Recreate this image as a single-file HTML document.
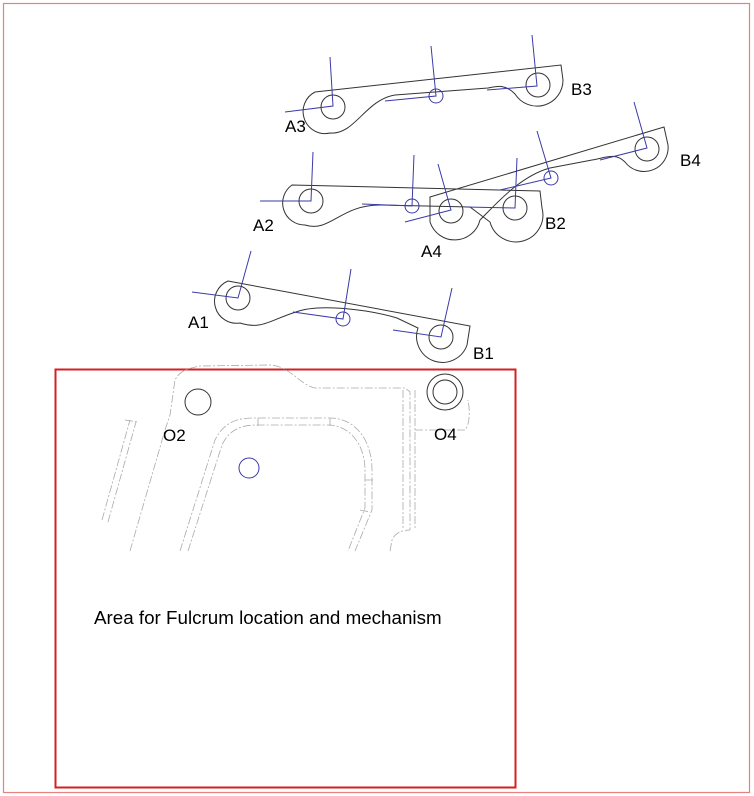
<!DOCTYPE html>
<html><head><style>
html,body{margin:0;padding:0;background:#fff;}
svg{display:block;}
text{font-family:"Liberation Sans",sans-serif;font-size:17px;fill:#000;}
</style></head><body>
<svg width="754" height="796" viewBox="0 0 754 796" xmlns="http://www.w3.org/2000/svg">
<rect x="3.5" y="3.5" width="746" height="789" fill="none" stroke="#e98080" stroke-width="1.2"/>
<rect x="55.5" y="369.5" width="460" height="418" fill="none" stroke="#d42020" stroke-width="2"/>

<g fill="none" stroke="#333" stroke-width="1">
<path d="M315,92 L561,65 L563,80 A26,26 0 0 1 515,94 C505,84 498,86 488,88 L395,95 C365,100 355,135 330,133 A22,22 0 0 1 315,92 Z"/>
<circle cx="333" cy="107" r="12"/><circle cx="538" cy="85" r="12"/>
<path d="M292,185 L540,191 L542,208 A26,26 0 0 1 490,222 L470,207 L380,205 C340,205 330,233 305,225 A22,22 0 0 1 292,185 Z"/>
<circle cx="311" cy="201" r="12"/><circle cx="515" cy="208" r="12"/>
<path d="M430,197 L664,127 L668,145 A24,24 0 0 1 625,162 C615,152 605,158 592,160 L550,168 C520,176 495,205 480,220 A26,26 0 0 1 430,222 Z"/>
<circle cx="451" cy="211" r="12"/><circle cx="647" cy="149" r="12"/>
<path d="M228,281 L470,326 L467,345 A24,24 0 0 1 418,328 L397,318 C370,310 320,303 296,312 C270,320 262,330 240,323 A22,22 0 0 1 228,281 Z"/>
<circle cx="238" cy="298" r="12"/><circle cx="441" cy="337" r="12"/>
<circle cx="198" cy="402" r="13"/>
<circle cx="445" cy="392" r="18"/><circle cx="445" cy="392" r="12"/>
</g>

<g fill="none" stroke="#3a3aa8" stroke-width="1">
<circle cx="436" cy="96" r="7"/>
<circle cx="412" cy="206" r="7"/>
<circle cx="551" cy="178" r="7"/>
<circle cx="343" cy="319" r="7"/>
<circle cx="249" cy="468" r="10"/>
<path d="M330,57 L333,106 L285,112 M532,35 L537,86 L487,90 M431,46 L436,96 L385,101"/>
<path d="M313,152 L311,201 L260,201 M414,155 L412,206 L362,204 M438,164 L451,210 L405,222 M517,158 L515,208 L465,207 M537,131 L551,178 L500,190 M634,102 L647,148 L600,160"/>
<path d="M251,251 L238,298 L192,292 M351,269 L343,319 L293,312 M452,288 L441,337 L393,330"/>
</g>

<g fill="none" stroke="#aaa" stroke-width="0.8" stroke-dasharray="8,2,2,2">
<path d="M130,551 L165,430 L170,415 L175,380 C180,370 190,368 200,366 L270,365 C290,366 300,385 315,388 L405,388 L410,392 L410,530"/>
<path d="M102,520 L130,420 M108,522 L136,422 M125,420 L138,422"/>
<path d="M180,551 L215,440 C225,420 240,418 255,418 L330,418 C355,418 372,440 372,470 L372,510 L355,551"/>
<path d="M188,551 L222,445 C230,428 243,425 258,425 L328,425 C350,425 365,445 365,470 L365,508 L348,551"/>
<path d="M258,418 L258,427 M330,418 L330,427 M365,480 L373,480 M360,510 L370,512"/>
<path d="M403,390 L403,530 M415,390 L415,530 M415,430 L465,430 C470,425 470,410 468,400"/>
<path d="M390,551 L392,540 C395,533 402,530 410,530"/>
</g>

<text x="285" y="132">A3</text>
<text x="571" y="95">B3</text>
<text x="253" y="231">A2</text>
<text x="545" y="229">B2</text>
<text x="421" y="257">A4</text>
<text x="680" y="166">B4</text>
<text x="188" y="328">A1</text>
<text x="473" y="359">B1</text>
<text x="163" y="441">O2</text>
<text x="434" y="440">O4</text>
<text x="94" y="624" style="font-size:18.8px">Area for Fulcrum location and mechanism</text>
</svg>
</body></html>
